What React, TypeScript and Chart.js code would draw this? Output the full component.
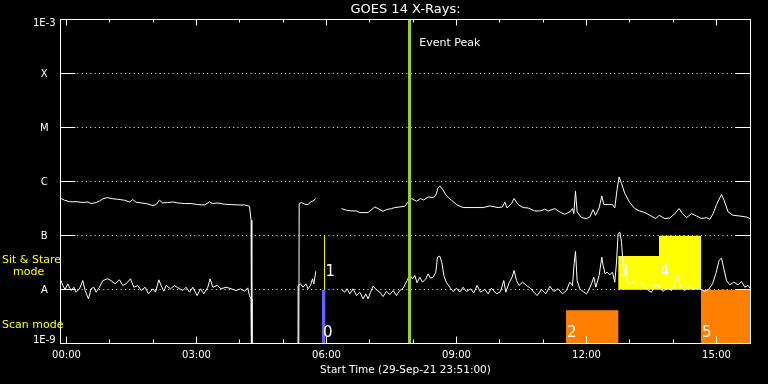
import React, { useEffect, useRef } from 'react';
import { Chart, registerables } from 'chart.js';

Chart.register(...registerables);

// ---------------- data ----------------
const chartTitle = 'GOES 14 X-Rays:';
const xAxisTitle = 'Start Time (29-Sep-21 23:51:00)';
const xMinHours = -0.15; // 23:51 of previous day
const xMaxHours = 15.797;
const xLabelHours = [0, 3, 6, 9, 12, 15];
const xLabelTexts = ['00:00', '03:00', '06:00', '09:00', '12:00', '15:00'];
const xMinorTickHours = [0, 1, 2, 3, 4, 5, 6, 7, 8, 9, 10, 11, 12, 13, 14, 15];
const yTickValues = [1e-9, 1e-8, 1e-7, 1e-6, 1e-5, 1e-4, 1e-3];
const yTickLabels = ['1E-9', 'A', 'B', 'C', 'M', 'X', '1E-3'];
const DROPOUT = -11; // log10 flux of detector dropouts (below the plot floor)

// GOES long channel (1-8 A): [hours since 00:00, log10 flux W/m^2]
const longChannel: Array<[number, number | null]> = [
  [-0.125, -6.315], [-0.046, -6.346], [0.076, -6.374], [0.261, -6.374], [0.376, -6.389],
  [0.492, -6.378], [0.568, -6.407], [0.683, -6.389], [0.762, -6.359], [0.838, -6.32],
  [0.953, -6.296], [1.029, -6.315], [1.184, -6.328], [1.339, -6.346], [1.454, -6.378],
  [1.53, -6.333], [1.606, -6.383], [1.722, -6.396], [1.837, -6.407], [1.992, -6.444],
  [2.068, -6.426], [2.146, -6.346], [2.222, -6.396], [2.338, -6.389], [2.453, -6.378],
  [2.569, -6.396], [2.723, -6.407], [2.876, -6.407], [3.03, -6.426], [3.185, -6.433],
  [3.3, -6.378], [3.376, -6.407], [3.492, -6.396], [3.646, -6.42], [3.799, -6.426],
  [3.953, -6.433], [4.108, -6.433], [4.223, -6.457], [4.26, -6.717], [4.277, DROPOUT],
  [5.355, DROPOUT], [5.37, -6.407], [5.424, -6.389], [5.5, -6.42], [5.576, -6.426],
  [5.631, -6.378], [5.691, -6.359], [5.754, -6.315], [6.0, null],
  [6.347, -6.5], [6.462, -6.531], [6.577, -6.544], [6.693, -6.544], [6.769, -6.574],
  [6.961, -6.574], [7.039, -6.519], [7.115, -6.47], [7.191, -6.5], [7.307, -6.55],
  [7.385, -6.519], [7.501, -6.5], [7.577, -6.481], [7.692, -6.47], [7.808, -6.457],
  [7.884, -6.378], [7.962, -6.315], [8.078, -6.365], [8.17, -6.315], [8.246, -6.341],
  [8.345, -6.285], [8.461, -6.296], [8.523, -6.254], [8.576, -6.119], [8.615, -6.081],
  [8.678, -6.143], [8.77, -6.267], [8.885, -6.346], [9.001, -6.426], [9.153, -6.481],
  [9.384, -6.481], [9.615, -6.481], [9.769, -6.452], [9.961, -6.481], [10.062, -6.47],
  [10.115, -6.378], [10.168, -6.489], [10.27, -6.407], [10.33, -6.315], [10.422, -6.426],
  [10.538, -6.481], [10.653, -6.489], [10.808, -6.544], [10.923, -6.544], [11.039, -6.513],
  [11.115, -6.544], [11.269, -6.5], [11.385, -6.563], [11.5, -6.606], [11.615, -6.563],
  [11.678, -6.5], [11.708, -6.593], [11.747, -6.18], [11.784, -6.563], [11.886, -6.667],
  [12.001, -6.685], [12.077, -6.656], [12.153, -6.519], [12.209, -6.624], [12.292, -6.489],
  [12.354, -6.267], [12.4, -6.426], [12.499, -6.426], [12.601, -6.426], [12.654, -6.489],
  [12.707, -6.143], [12.753, -5.915], [12.809, -6.037], [12.885, -6.222], [13.0, -6.389],
  [13.116, -6.5], [13.231, -6.544], [13.347, -6.574], [13.462, -6.624], [13.601, -6.685],
  [13.676, -6.624], [13.808, -6.685], [13.923, -6.674], [14.039, -6.593], [14.138, -6.5],
  [14.216, -6.593], [14.309, -6.667], [14.424, -6.593], [14.54, -6.637], [14.655, -6.685],
  [14.77, -6.667], [14.847, -6.698], [14.923, -6.593], [15.001, -6.426], [15.117, -6.241],
  [15.176, -6.346], [15.269, -6.563], [15.384, -6.624], [15.539, -6.637], [15.693, -6.656],
  [15.77, -6.685],
];

// GOES short channel (0.5-4 A): [hours since 00:00, log10 flux W/m^2]
const shortChannel: Array<[number, number | null]> = [
  [-0.125, -7.828], [-0.085, -7.92], [-0.032, -7.994], [0.03, -7.889], [0.106, -8.013],
  [0.168, -7.952], [0.222, -8.044], [0.3, -7.981], [0.376, -7.828], [0.429, -8.013],
  [0.508, -8.167], [0.568, -7.981], [0.63, -7.952], [0.683, -8.044], [0.762, -7.952],
  [0.838, -7.828], [0.953, -7.796], [1.029, -7.828], [1.122, -7.889], [1.223, -7.815],
  [1.299, -7.92], [1.375, -7.889], [1.477, -7.796], [1.553, -7.952], [1.645, -7.92],
  [1.722, -8.013], [1.814, -7.952], [1.892, -8.074], [1.992, -7.981], [2.054, -8.044],
  [2.13, -7.815], [2.183, -7.92], [2.246, -8.026], [2.299, -7.92], [2.4, -7.981],
  [2.493, -7.92], [2.569, -7.963], [2.684, -8.013], [2.76, -7.952], [2.839, -8.044],
  [2.915, -7.952], [3.014, -8.106], [3.093, -7.981], [3.169, -8.074], [3.261, -7.952],
  [3.314, -7.796], [3.376, -7.952], [3.476, -7.92], [3.568, -7.981], [3.683, -7.952],
  [3.799, -7.981], [3.914, -8.013], [4.016, -7.981], [4.108, -8.026], [4.184, -7.963],
  [4.223, -8.106], [4.26, -8.167], [4.28, DROPOUT], [5.34, DROPOUT], [5.345, -7.92],
  [5.4, -7.889], [5.46, -7.952], [5.523, -7.889], [5.576, -7.981], [5.631, -7.92],
  [5.677, -7.796], [5.707, -7.889], [5.754, -7.656], [6.0, null],
  [6.347, -8.0], [6.423, -8.044], [6.476, -7.981], [6.538, -8.074], [6.614, -7.981],
  [6.693, -8.106], [6.769, -8.044], [6.845, -8.167], [6.907, -8.074], [6.961, -8.167],
  [7.016, -8.044], [7.076, -7.933], [7.154, -8.0], [7.231, -8.044], [7.307, -8.124],
  [7.385, -8.026], [7.461, -8.087], [7.538, -8.013], [7.616, -8.106], [7.692, -8.013],
  [7.768, -7.97], [7.861, -7.828], [7.923, -7.722], [7.985, -7.796], [8.038, -7.735],
  [8.091, -7.87], [8.154, -7.767], [8.216, -7.859], [8.292, -7.796], [8.345, -7.704],
  [8.401, -7.785], [8.461, -7.767], [8.523, -7.674], [8.562, -7.396], [8.615, -7.378],
  [8.661, -7.489], [8.708, -7.735], [8.77, -7.87], [8.846, -7.952], [8.922, -8.031],
  [9.001, -7.97], [9.077, -8.044], [9.153, -7.952], [9.231, -8.031], [9.324, -7.981],
  [9.4, -8.056], [9.476, -7.92], [9.555, -8.044], [9.654, -7.994], [9.73, -8.074],
  [9.808, -7.97], [9.924, -8.074], [10.016, -8.031], [10.092, -7.828], [10.138, -8.044],
  [10.215, -7.87], [10.284, -7.767], [10.33, -7.643], [10.385, -7.828], [10.445, -7.92],
  [10.524, -7.859], [10.616, -7.92], [10.708, -7.97], [10.785, -8.044], [10.861, -8.106],
  [10.962, -7.994], [11.062, -8.074], [11.154, -7.933], [11.246, -8.031], [11.345, -7.981],
  [11.447, -8.074], [11.539, -8.013], [11.615, -7.859], [11.678, -7.92], [11.715, -7.519],
  [11.747, -7.291], [11.784, -7.828], [11.846, -7.981], [11.922, -8.031], [12.001, -8.074],
  [12.061, -7.994], [12.116, -7.889], [12.169, -7.767], [12.216, -7.952], [12.292, -7.735],
  [12.354, -7.396], [12.384, -7.55], [12.43, -7.704], [12.476, -7.674], [12.539, -7.722],
  [12.601, -7.674], [12.654, -7.859], [12.693, -7.489], [12.73, -6.963], [12.769, -6.933],
  [12.809, -7.119], [12.846, -7.55], [12.908, -7.767], [12.984, -7.889], [13.077, -7.859],
  [13.155, -7.92], [13.231, -7.87], [13.323, -7.907], [13.423, -8.013], [13.501, -8.044],
  [13.601, -7.889], [13.676, -7.952], [13.769, -8.031], [13.861, -7.952], [13.963, -8.013],
  [14.062, -7.828], [14.115, -7.735], [14.17, -7.952], [14.27, -8.013], [14.369, -7.933],
  [14.461, -7.994], [14.577, -7.952], [14.655, -7.994], [14.731, -8.031], [14.83, -7.981],
  [14.909, -7.889], [14.985, -7.704], [15.061, -7.457], [15.117, -7.415], [15.17, -7.611],
  [15.232, -7.828], [15.308, -7.907], [15.4, -7.859], [15.5, -7.907], [15.578, -7.846],
  [15.654, -7.952], [15.73, -7.92], [15.786, -7.981],
];

// Observation modes
const modeNames = ['0', '1', '2', '3', '4', '5'];
const modeKinds = ['scan', 'sit', 'scan', 'sit', 'sit', 'scan'];
const modeStartHours = [5.897, 5.956, 11.528, 12.735, 13.674, 14.643];
const modeEndHours = [5.973, 5.956, 12.735, 13.674, 14.643, 15.834];
const modeLowFlux = [1e-9, 1e-8, 1e-9, 1e-8, 1e-8, 1e-9];
const modeHighFlux = [1e-8, 1e-7, 4.2e-9, 4.2e-8, 1e-7, 1e-8];
const modeColors = ['#6464ff', '#ffff00', '#ff8000', '#ffff00', '#ffff00', '#ff8000'];

const eventPeakHours = 7.916;
const eventPeakLabel = 'Event Peak';

const sideLabels = ['Sit & Stare', 'mode', 'Scan mode'];

// ---------------- helpers ----------------
const FONT = '"DejaVu Sans", sans-serif';
const toPoints = (arr: Array<[number, number | null]>) =>
  arr.map(([h, l]) => ({ x: h, y: l === null ? null : Math.pow(10, l) }));

const decorPlugin = {
  id: 'goesDecor',
  beforeDraw(chart: any) {
    const { ctx, width, height } = chart;
    ctx.save();
    ctx.fillStyle = '#000';
    ctx.fillRect(0, 0, width, height);
    ctx.restore();
  },
  beforeDatasetsDraw(chart: any) {
    const { ctx, chartArea } = chart;
    const ys = chart.scales.y;
    ctx.save();
    ctx.strokeStyle = '#fff';
    ctx.lineWidth = 1;
    ctx.setLineDash([1, 3.33]);
    for (let i = 1; i < yTickValues.length - 1; i++) {
      const y = Math.floor(ys.getPixelForValue(yTickValues[i])) + 0.5;
      ctx.beginPath();
      ctx.moveTo(chartArea.left, y);
      ctx.lineTo(chartArea.right, y);
      ctx.stroke();
    }
    ctx.restore();
  },
  afterDatasetsDraw(chart: any) {
    const { ctx, chartArea } = chart;
    const xs = chart.scales.x;
    const ys = chart.scales.y;
    const L = chartArea.left + 0.5;
    const R = chartArea.right - 0.5;
    const T = chartArea.top + 0.5;
    const B = chartArea.bottom - 0.5;
    ctx.save();
    ctx.strokeStyle = '#fff';
    ctx.lineWidth = 1;
    ctx.setLineDash([]);
    // frame
    ctx.strokeRect(L, T, R - L, B - T);
    // y major ticks (inward, both sides)
    for (let i = 1; i < yTickValues.length - 1; i++) {
      const y = Math.floor(ys.getPixelForValue(yTickValues[i])) + 0.5;
      ctx.beginPath();
      ctx.moveTo(L, y);
      ctx.lineTo(L + 15, y);
      ctx.moveTo(R - 15, y);
      ctx.lineTo(R, y);
      ctx.stroke();
    }
    // x ticks (inward, top and bottom)
    for (const h of xMinorTickHours) {
      const x = Math.floor(xs.getPixelForValue(h)) + 0.5;
      const major = xLabelHours.includes(h);
      ctx.beginPath();
      ctx.moveTo(x, B);
      ctx.lineTo(x, B - (major ? 7 : 4));
      ctx.moveTo(x, T);
      ctx.lineTo(x, T + (major ? 6 : 3));
      ctx.stroke();
    }
    // y labels
    ctx.fillStyle = '#fff';
    ctx.font = `10px ${FONT}`;
    ctx.textAlign = 'center';
    ctx.textBaseline = 'middle';
    yTickValues.forEach((v, i) => {
      let y = ys.getPixelForValue(v) + 0.8;
      y = Math.max(chartArea.top + 4.5, Math.min(chartArea.bottom - 3.8, y));
      ctx.fillText(yTickLabels[i], 44.3, y);
    });
    // title
    ctx.font = `13px ${FONT}`;
    ctx.fillText(chartTitle, (chartArea.left + chartArea.right) / 2, 10);
    // side labels
    ctx.fillStyle = '#ffff00';
    ctx.font = `11px ${FONT}`;
    ctx.textAlign = 'left';
    const aPix = ys.getPixelForValue(1e-8);
    ctx.fillText(sideLabels[0], 2, aPix - 30);
    ctx.fillText(sideLabels[1], 13, aPix - 18);
    ctx.fillText(sideLabels[2], 2, chartArea.bottom - 19);
    // event label
    ctx.fillStyle = '#fff';
    ctx.fillText(eventPeakLabel, xs.getPixelForValue(eventPeakHours) + 9.8, chartArea.top + 24.5);
    // mode labels
    ctx.font = `15px ${FONT}`;
    modeNames.forEach((name, i) => {
      const x = xs.getPixelForValue(modeStartHours[i]) + 1;
      const y = modeKinds[i] === 'sit'
        ? ys.getPixelForValue(1e-8) - 17.5
        : chartArea.bottom - 10.5;
      ctx.fillText(name, x, y);
    });
    ctx.restore();
  },
};

export default function App() {
  const canvasRef = useRef<HTMLCanvasElement | null>(null);

  useEffect(() => {
    const canvas = canvasRef.current;
    if (!canvas) return;

    const modeDatasets = modeNames.map((name, i) => {
      const s = modeStartHours[i];
      const e = modeEndHours[i];
      const isLine = s === e;
      return {
        label: 'mode ' + name,
        data: isLine
          ? [{ x: s, y: modeLowFlux[i] }, { x: s, y: modeHighFlux[i] }]
          : [
              { x: s, y: modeLowFlux[i] },
              { x: s, y: modeHighFlux[i] },
              { x: e, y: modeHighFlux[i] },
              { x: e, y: modeLowFlux[i] },
            ],
        borderColor: isLine ? modeColors[i] : 'rgba(0,0,0,0)',
        backgroundColor: modeColors[i],
        borderWidth: 1,
        fill: isLine ? false : 'shape',
        pointRadius: 0,
        tension: 0,
        order: 2,
      };
    });

    const chart = new Chart(canvas, {
      type: 'line',
      data: {
        datasets: [
          {
            label: 'Event Peak',
            data: [{ x: eventPeakHours, y: 1e-9 }, { x: eventPeakHours, y: 1e-3 }],
            borderColor: '#9acd32',
            borderWidth: 3,
            pointRadius: 0,
            fill: false,
            order: 0,
          },
          {
            label: '1-8 A',
            data: toPoints(longChannel),
            borderColor: '#ffffff',
            borderWidth: 1,
            pointRadius: 0,
            tension: 0,
            fill: false,
            spanGaps: false,
            order: 1,
          },
          {
            label: '0.5-4 A',
            data: toPoints(shortChannel),
            borderColor: '#ffffff',
            borderWidth: 1,
            pointRadius: 0,
            tension: 0,
            fill: false,
            spanGaps: false,
            order: 1,
          },
          ...modeDatasets,
        ] as any,
      },
      options: {
        animation: false,
        responsive: false,
        maintainAspectRatio: false,
        events: [],
        layout: { padding: { top: 19, right: 17, left: 0, bottom: 0 } },
        plugins: {
          legend: { display: false },
          tooltip: { enabled: false },
          title: { display: false },
        },
        scales: {
          x: {
            type: 'linear',
            min: xMinHours,
            max: xMaxHours,
            grid: { display: false, drawTicks: false },
            border: { display: false },
            ticks: {
              color: '#ffffff',
              font: { family: FONT, size: 10 },
              padding: 5.5,
              maxRotation: 0,
              autoSkip: false,
              callback: (v: any) => {
                const i = xLabelHours.indexOf(Number(v));
                return i >= 0 ? xLabelTexts[i] : '';
              },
            },
            afterBuildTicks: (s: any) => {
              s.ticks = xLabelHours.map((v) => ({ value: v }));
            },
            afterFit: (s: any) => {
              s.height = 40;
            },
            title: {
              display: true,
              text: xAxisTitle,
              color: '#ffffff',
              font: { family: FONT, size: 10.5 },
              padding: { top: 0, bottom: 7.5 },
            },
          },
          y: {
            type: 'logarithmic',
            min: 1e-9,
            max: 1e-3,
            grid: { display: false, drawTicks: false },
            border: { display: false },
            ticks: { display: false },
            afterFit: (s: any) => {
              s.width = 60;
            },
          },
        },
      } as any,
      plugins: [decorPlugin],
    });

    return () => chart.destroy();
  }, []);

  return (
    <div
      style={{
        position: 'fixed',
        left: 0,
        top: 0,
        width: 768,
        height: 384,
        background: '#000',
      }}
    >
      <canvas ref={canvasRef} width={768} height={384} style={{ display: 'block' }} />
    </div>
  );
}
